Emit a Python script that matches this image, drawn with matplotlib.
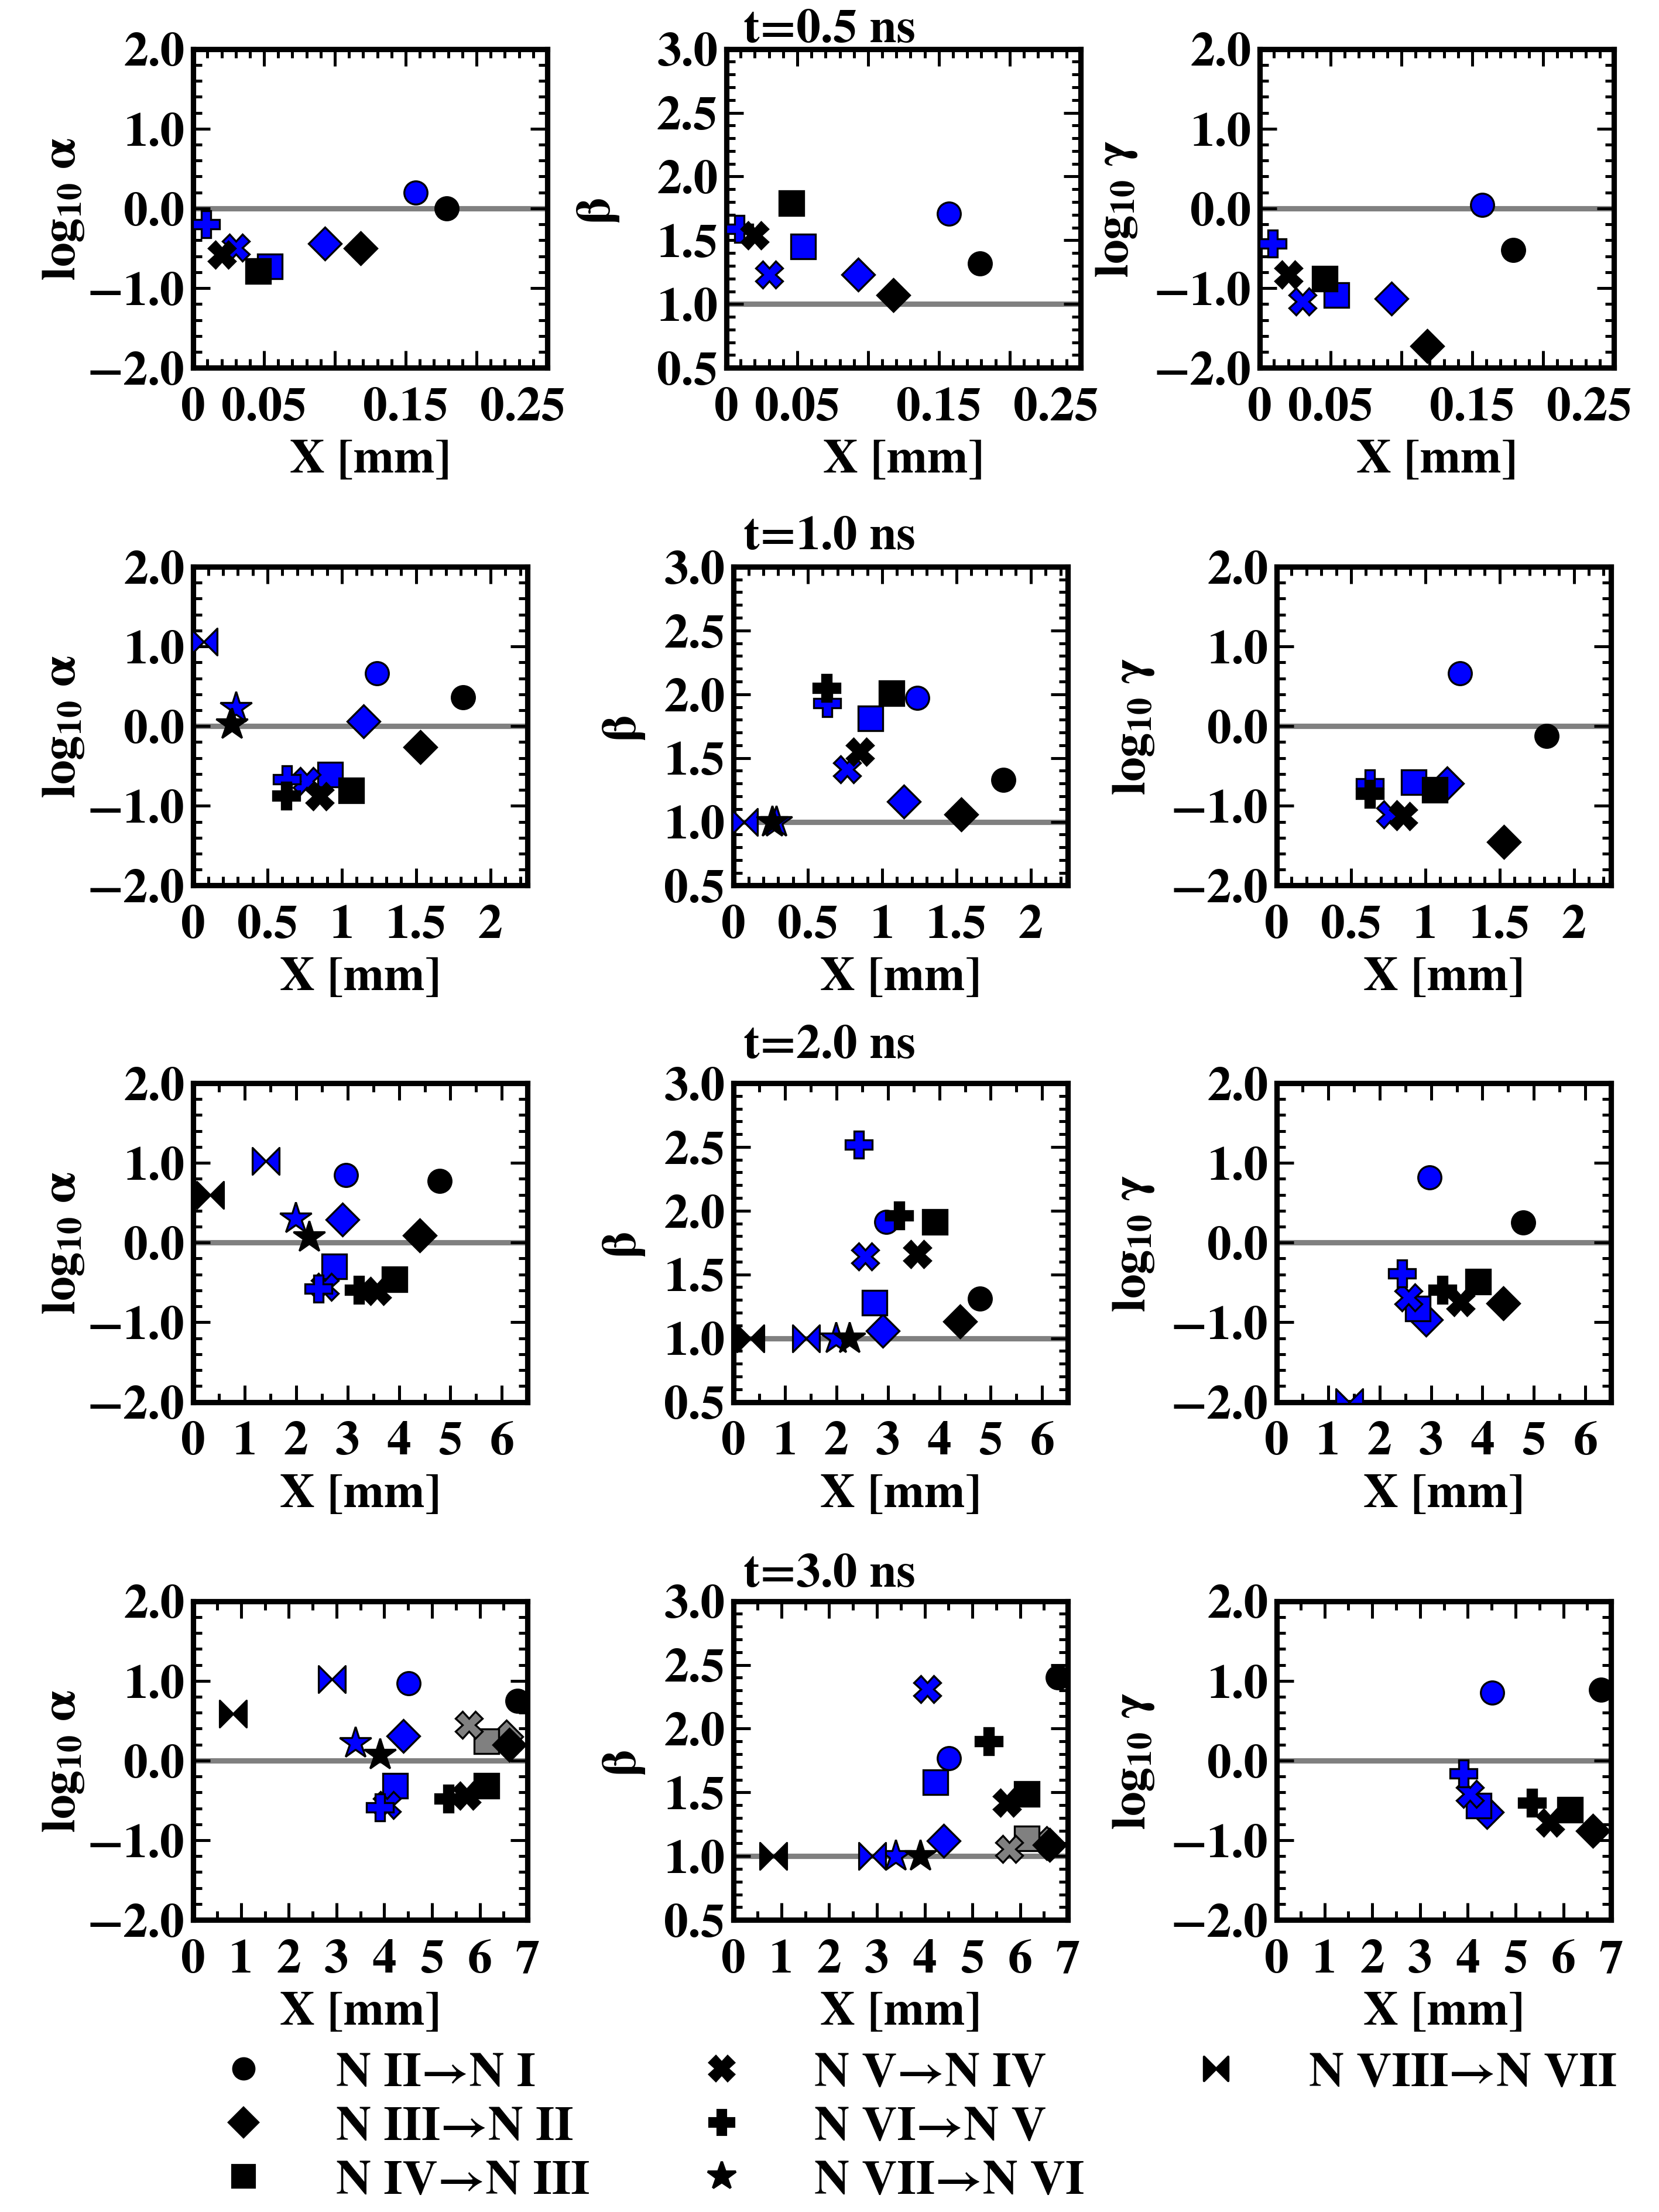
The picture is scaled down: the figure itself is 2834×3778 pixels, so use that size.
import numpy as np
import matplotlib
matplotlib.use("Agg")
import matplotlib.pyplot as plt
from matplotlib.path import Path
from matplotlib.lines import Line2D
from matplotlib.ticker import MultipleLocator
from matplotlib.transforms import ScaledTranslation

NaN = np.nan

# transitions, same order everywhere below
transitions = ["N II→N I", "N III→N II", "N IV→N III", "N V→N IV",
               "N VI→N V", "N VII→N VI", "N VIII→N VII"]
times = ["t=0.5 ns", "t=1.0 ns", "t=2.0 ns", "t=3.0 ns"]

# t = 0.5 ns
x_05_blk = [0.179, 0.118, 0.046, 0.020, NaN, NaN, NaN]
x_05_blu = [0.157, 0.093, 0.054, 0.030, 0.009, NaN, NaN]
la_05_blk = [0.00, -0.50, -0.79, -0.58, NaN, NaN, NaN]
la_05_blu = [0.20, -0.44, -0.73, -0.49, -0.20, NaN, NaN]
b_05_blk = [1.32, 1.07, 1.79, 1.54, NaN, NaN, NaN]
b_05_blu = [1.71, 1.23, 1.45, 1.23, 1.59, NaN, NaN]
lg_05_blk = [-0.52, -1.73, -0.88, -0.83, NaN, NaN, NaN]
lg_05_blu = [0.04, -1.13, -1.09, -1.17, -0.44, NaN, NaN]

# t = 1.0 ns
x_10_blk = [1.815, 1.53, 1.063, 0.85, 0.627, 0.26, NaN]
x_10_blu = [1.235, 1.147, 0.92, 0.765, 0.628, 0.286, 0.07]
la_10_blk = [0.36, -0.26, -0.81, -0.88, -0.87, 0.02, NaN]
la_10_blu = [0.66, 0.06, -0.61, -0.69, -0.67, 0.23, 1.06]
b_10_blk = [1.33, 1.06, 2.01, 1.55, 2.05, 1.00, NaN]
b_10_blu = [1.97, 1.16, 1.81, 1.41, 1.93, 1.00, 1.00]
lg_10_blk = [-0.12, -1.45, -0.80, -1.13, -0.85, NaN, NaN]
lg_10_blu = [0.66, -0.72, -0.70, -1.11, -0.72, NaN, NaN]

# t = 2.0 ns
x_20_blk = [4.79, 4.40, 3.91, 3.57, 3.22, 2.25, 0.33]
x_20_blu = [2.97, 2.90, 2.74, 2.56, 2.43, 1.99, 1.41]
la_20_blk = [0.77, 0.09, -0.46, -0.61, -0.59, 0.07, 0.60]
la_20_blu = [0.85, 0.29, -0.30, -0.56, -0.58, 0.30, 1.02]
b_20_blk = [1.31, 1.13, 1.91, 1.66, 1.96, 1.00, 1.00]
b_20_blu = [1.91, 1.06, 1.28, 1.64, 2.52, 1.00, 1.00]
lg_20_blk = [0.25, -0.76, -0.49, -0.75, -0.59, NaN, NaN]
lg_20_blu = [0.82, -0.97, -0.83, -0.69, -0.39, NaN, -2.00]

# t = 3.0 ns
x_30_blk = [6.79, 6.62, 6.14, 5.72, 5.34, 3.91, 0.83]
x_30_blu = [4.51, 4.40, 4.23, 4.05, 3.91, 3.39, 2.90]
x_30_gry = [NaN, 6.56, 6.14, 5.77, NaN, NaN, NaN]
la_30_blk = [0.75, 0.20, -0.32, -0.44, -0.48, 0.07, 0.59]
la_30_blu = [0.97, 0.31, -0.32, -0.56, -0.59, 0.22, 1.02]
la_30_gry = [NaN, 0.30, 0.24, 0.45, NaN, NaN, NaN]
b_30_blk = [2.40, 1.09, 1.49, 1.42, 1.90, 1.00, 1.00]
b_30_blu = [1.77, 1.12, 1.58, 2.31, NaN, 1.00, 1.00]
b_30_gry = [NaN, 1.10, 1.14, 1.055, NaN, NaN, NaN]
lg_30_blk = [0.89, -0.88, -0.62, -0.78, -0.53, NaN, NaN]
lg_30_blu = [0.85, -0.65, -0.57, -0.42, -0.16, NaN, NaN]

# (x, [log alpha, beta, log gamma], colour) per time row
rows = [
    [(x_05_blu, [la_05_blu, b_05_blu, lg_05_blu], "blue"),
     (x_05_blk, [la_05_blk, b_05_blk, lg_05_blk], "black")],
    [(x_10_blu, [la_10_blu, b_10_blu, lg_10_blu], "blue"),
     (x_10_blk, [la_10_blk, b_10_blk, lg_10_blk], "black")],
    [(x_20_blu, [la_20_blu, b_20_blu, lg_20_blu], "blue"),
     (x_20_blk, [la_20_blk, b_20_blk, lg_20_blk], "black")],
    [(x_30_blu, [la_30_blu, b_30_blu, lg_30_blu], "blue"),
     (x_30_gry, [la_30_gry, b_30_gry, None], "#808080"),
     (x_30_blk, [la_30_blk, b_30_blk, lg_30_blk], "black")],
]

plt.rcParams["font.family"] = ["STIXGeneral", "DejaVu Serif"]
plt.rcParams["font.weight"] = "bold"
plt.rcParams["axes.labelweight"] = "bold"
plt.rcParams["mathtext.fontset"] = "stix"
plt.rcParams["mathtext.default"] = "bf"

bowtie = Path([(-1, -1), (-1, 1), (0, 0), (1, 1), (1, -1), (0, 0), (-1, -1)],
              [Path.MOVETO] + [Path.LINETO] * 5 + [Path.CLOSEPOLY])
markers = ["o", "D", "s", "X", "P", "*", bowtie]
msizes = [9.5, 9.5, 10, 11, 11, 13.5, 11]

xlims = [0.25, 2.25, 6.5, 7.0]
xticks = [[0, 0.05, 0.1, 0.15, 0.2, 0.25], [0, 0.5, 1, 1.5, 2],
          list(range(7)), list(range(8))]
xticklabels = [["0", "0.05", "", "0.15", "", "0.25"], ["0", "0.5", "1", "1.5", "2"],
               [str(i) for i in range(7)], [str(i) for i in range(8)]]
xminor = [0.01, 0.1, 0.5, 0.5]

ylabels = ["log$_{10}$ α", "β", "log$_{10}$ γ"]

FS = 20

fig = plt.figure(figsize=(2834 / 300, 3779 / 300), dpi=300)

bottoms = [0.8335, 0.5995, 0.3661, 0.1320]
title_y = [0.986, 0.757, 0.527, 0.288]
h = 0.1441
# y-label padding per column (first row / other rows)
ypad_row1 = [0.5, 16, 6]
ypad_rest = [0.5, 8.5, 6]

for r in range(4):
    if r == 0:
        lefts, w = [0.1165, 0.4379, 0.7594], 0.2134
        ypads = ypad_row1
    else:
        lefts, w = [0.1165, 0.4422, 0.7696], 0.2015
        ypads = ypad_rest
    for c in range(3):
        ax = fig.add_axes([lefts[c], bottoms[r], w, h])
        if c == 1:
            ax.axhline(1.0, color="#808080", lw=2.2, zorder=1)
            ax.set_ylim(0.5, 3.0)
            ax.set_yticks([0.5, 1.0, 1.5, 2.0, 2.5, 3.0],
                          ["0.5", "1.0", "1.5", "2.0", "2.5", "3.0"])
            ax.yaxis.set_minor_locator(MultipleLocator(0.1))
        else:
            ax.axhline(0.0, color="#808080", lw=2.2, zorder=1)
            ax.set_ylim(-2.0, 2.0)
            ax.set_yticks([-2, -1, 0, 1, 2], ["−2.0", "−1.0", "0.0", "1.0", "2.0"])
            ax.yaxis.set_minor_locator(MultipleLocator(0.2))
        ax.set_xlim(0, xlims[r])
        ax.set_xticks(xticks[r], xticklabels[r])
        ax.xaxis.set_minor_locator(MultipleLocator(xminor[r]))

        for xs, ys_all, col in rows[r]:
            ys = ys_all[c]
            if ys is None:
                continue
            for i in range(7):
                if np.isnan(xs[i]) or np.isnan(ys[i]):
                    continue
                ax.plot(xs[i], ys[i], ls="none", marker=markers[i], ms=msizes[i],
                        color=col, mec="black", mew=0.8, zorder=3)

        ax.tick_params(which="both", direction="in", top=True, right=True,
                       labelsize=FS, width=1.2)
        ax.tick_params(which="major", length=7)
        ax.tick_params(which="minor", length=3.5)
        ax.tick_params(axis="x", which="major", pad=8)
        for sp in ax.spines.values():
            sp.set_linewidth(2.2)
        ax.set_xlabel("X [mm]", fontsize=FS, labelpad=4)
        ax.set_ylabel(ylabels[c], fontsize=FS, labelpad=ypads[c])

        if r == 0:
            # last label of the first row sits a little left of its tick
            lab = ax.get_xticklabels()[-1]
            lab.set_transform(lab.get_transform() +
                              ScaledTranslation(-10 / 72, 0, fig.dpi_scale_trans))

    fig.text(0.5, title_y[r], times[r], ha="center", va="center",
             fontsize=FS, fontweight="bold")

handles = [Line2D([], [], ls="none", marker=markers[i], ms=msizes[i] * 0.9,
                  color="black", mec="black") for i in range(7)]
labels = list(transitions)
# two empty slots so the last column holds only the bowtie entry
for _ in range(2):
    handles.append(Line2D([], [], ls="none", marker=None))
    labels.append("")
fig.legend(handles, labels, loc="upper left", bbox_to_anchor=(0.132, 0.0726),
           ncol=3, frameon=False, fontsize=FS, handlelength=1.0,
           handletextpad=1.4, columnspacing=2.2, labelspacing=0.2,
           borderpad=0, borderaxespad=0)

fig.savefig("out.png", dpi=300)
